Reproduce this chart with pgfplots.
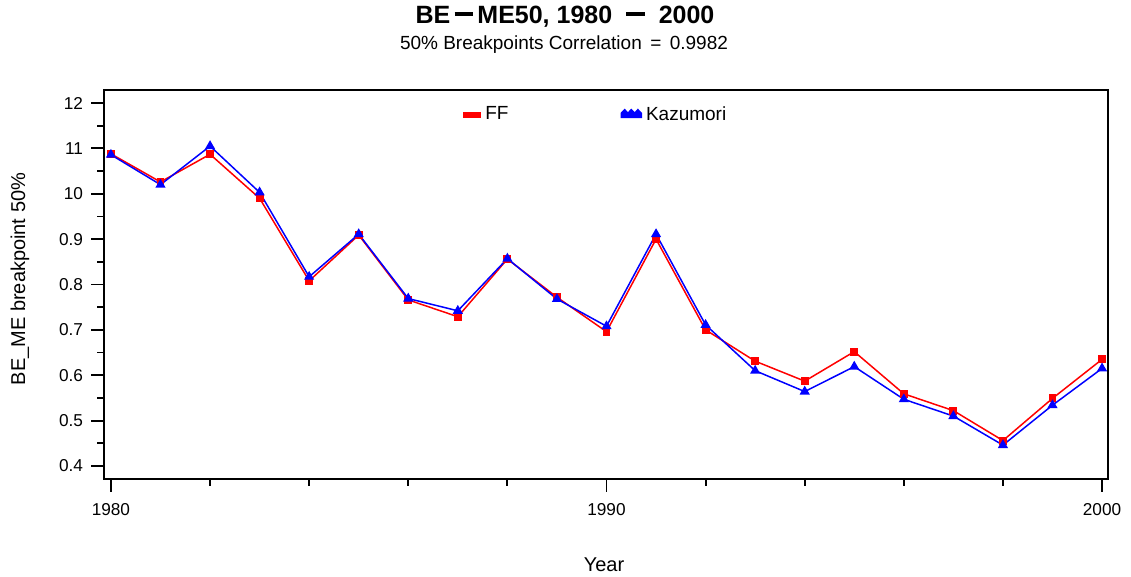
\documentclass[border=0pt]{standalone}
\usepackage{fontspec}
\setmainfont{Liberation Sans}
\usepackage{pgfplots}
\pgfplotsset{compat=1.18}
\usepackage{pgfplotstable}
\pgfplotstableread{
year ff kaz
1980 1.088 1.086
1981 1.026 1.020
1982 1.087 1.105
1983 0.990 1.003
1984 0.808 0.817
1985 0.909 0.911
1986 0.766 0.769
1987 0.729 0.742
1988 0.856 0.857
1989 0.772 0.768
1990 0.696 0.708
1991 0.900 0.911
1992 0.700 0.711
1993 0.631 0.610
1994 0.587 0.564
1995 0.652 0.619
1996 0.559 0.547
1997 0.522 0.510
1998 0.456 0.446
1999 0.549 0.534
2000 0.635 0.615
}\datatable
\begin{document}
\begin{tikzpicture}
\path[use as bounding box] (-52pt,-49pt) rectangle (513.5pt,239.5pt);
\begin{axis}[
  scale only axis,
  width=502pt, height=194.5pt,
  at={(0,0)}, anchor=south west,
  xmin=1979.86, xmax=2000.12,
  ymin=0.3713, ymax=1.2287,
  axis line style={line width=1pt},
  tick style={line width=0.9pt, black},
  tick align=outside,
  xtick pos=left, ytick pos=left,
  major tick length=6.5pt, minor tick length=3.5pt,
  xtick={1980,1990,2000},
  xticklabels={1980,1990,2000},
  minor xtick={1982,1984,1986,1988,1992,1994,1996,1998},
  ytick={0.4,0.5,0.6,0.7,0.8,0.9,1.0,1.1,1.2},
  yticklabels={0.4,0.5,0.6,0.7,0.8,0.9,10,11,12},
  minor ytick={0.45,0.55,0.65,0.75,0.85,0.95,1.05,1.15},
  ticklabel style={font=\fontsize{8.6}{10}\selectfont},
  xticklabel style={yshift=-2pt},
  yticklabel style={xshift=-0.5pt},
  xlabel={Year},
  ylabel={BE\_ME breakpoint 50\%},
  label style={font=\fontsize{9}{10}\selectfont},
  every axis x label/.style={at={(axis description cs:0.498,-0.221)}, anchor=center},
  every axis y label/.style={at={(axis description cs:-0.0837,0.514)}, rotate=90, anchor=center},
  legend style={at={(axis description cs:0.357,0.936)}, anchor=west, draw=none, fill=none,
    font=\fontsize{9.5}{11}\selectfont, legend columns=2, inner sep=0pt},
]
\addplot[red, line width=0.75pt, mark=square*, mark size=1.6pt, mark options={solid},
  legend image code/.code={\fill[red] (0pt,-1.2pt) rectangle (8.5pt,1.2pt);}]
  table[x=year,y=ff] {\datatable};
\addlegendentry{FF\hspace*{54pt}}
\addplot[blue, line width=0.75pt, mark=triangle*, mark size=2.2pt, mark options={solid},
  legend image code/.code={\fill[blue] (0pt,-1.2pt) -- (0pt,0.8pt) -- (1.7pt,2.6pt) -- (3.3pt,0.8pt) -- (5pt,2.6pt) -- (6.7pt,0.8pt) -- (8.3pt,2.6pt) -- (10pt,0.8pt) -- (10pt,-1.2pt) -- cycle;}]
  table[x=year,y=kaz] {\datatable};
\addlegendentry{Kazumori}
\end{axis}
\node[font=\bfseries\fontsize{12.5}{14}\selectfont] at (230.5pt,231pt) {BE\,\rule[0.33em]{0.75em}{0.14em}\,ME50, 1980 \ \rule[0.33em]{0.75em}{0.14em} \ 2000};
\node[font=\fontsize{9.5}{11}\selectfont] at (230pt,217pt) {50\% Breakpoints Correlation \,=\, 0.9982};
\end{tikzpicture}
\end{document}
